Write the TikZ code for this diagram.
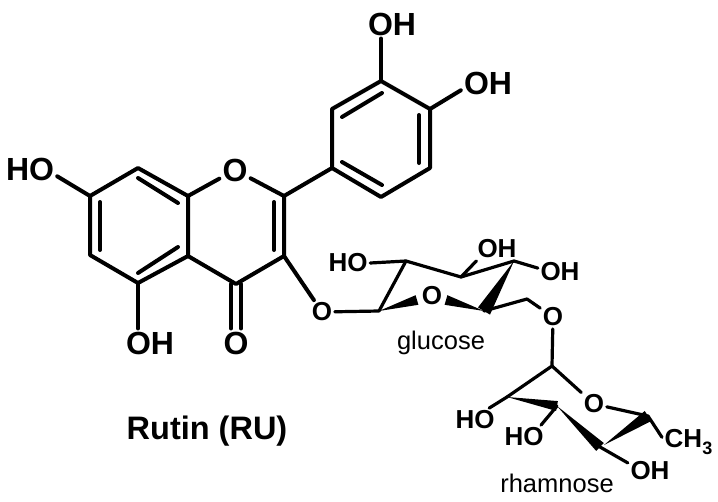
\documentclass[tikz,border=0pt]{standalone}
\usepackage{fontspec}
\setmainfont{Liberation Sans}
\usetikzlibrary{calc}
\tikzset{
    bond/.style={line width=4pt, line cap=round, line join=round},
    thinbond/.style={line width=3.2pt, line cap=round, line join=round},
    atom/.style={font=\fontsize{32}{32}\selectfont\bfseries, inner sep=3pt},
    sugaratom/.style={font=\fontsize{26}{26}\selectfont\bfseries, inner sep=2.5pt},
    sugarname/.style={font=\fontsize{25.5}{25.5}\selectfont, inner sep=0pt},
    title/.style={font=\fontsize{32.5}{32.5}\selectfont\bfseries, inner sep=0pt}
}
\newcommand{\wedgebond}[3]{\fill (#1) -- ($(#2)!#3!90:(#1)$) -- ($(#2)!#3!-90:(#1)$) -- cycle;}
\begin{document}
\begin{tikzpicture}[x=1pt, y=-1pt]
                \useasboundingbox (0, 0) rectangle (718, 501);

                % ring vertices
                \coordinate (C2) at (284, 196);
                \coordinate (C3) at (284, 256);
                \coordinate (C4) at (236, 284);
                \coordinate (C4a) at (188, 256);
                \coordinate (C5) at (138, 283);
                \coordinate (C6) at (90, 255);
                \coordinate (C7) at (90, 196);
                \coordinate (C8) at (138, 168);
                \coordinate (C8a) at (188, 196);

                \coordinate (B1) at (332, 168);
                \coordinate (B2) at (332, 109);
                \coordinate (B3) at (381, 81);
                \coordinate (B4) at (430, 109);
                \coordinate (B5) at (430, 168);
                \coordinate (B6) at (381, 197);

                \coordinate (G1) at (379, 311);
                \coordinate (G2) at (406, 261);
                \coordinate (G3) at (461, 277);
                \coordinate (G4) at (514, 261);
                \coordinate (G5) at (484, 311);
                \coordinate (G6) at (527, 299);
                \coordinate (Ga) at (417, 300);
                \coordinate (Gb) at (446, 300);

                \coordinate (R1) at (552, 366);
                \coordinate (R2) at (507, 397);
                \coordinate (R3) at (557, 406);
                \coordinate (R4) at (600, 447);
                \coordinate (R4t) at (604, 445);
                \coordinate (R5) at (648, 416);

                % labels
                \node[atom] (HO7) at (30, 169) {HO};
                \node[atom] (OH5) at (150, 343) {OH};
                \node[atom] (O1) at (235, 170) {O};
                \node[atom] (O4) at (236, 343) {O};
                \node[atom] (OH3) at (392, 24) {OH};
                \node[atom] (OH4) at (488, 83) {OH};

                \node[sugaratom] (O3) at (322, 312) {O};
                \node[sugaratom] (OG) at (432, 296) {O};
                \node[sugaratom] (O6) at (553, 317) {O};
                \node[sugaratom] (HOa) at (348, 263) {HO};
                \node[sugaratom] (OHb) at (497, 249) {OH};
                \node[sugaratom] (OHc) at (560, 272) {OH};

                \node[sugaratom] (OR) at (594, 404) {O};
                \node[sugaratom] (HOd) at (475, 420) {HO};
                \node[sugaratom] (HOe) at (524, 437) {HO};
                \node[sugaratom] (OHf) at (650, 471) {OH};
                \node[sugaratom, anchor=west] (CH3) at (662, 442) {CH\raisebox{-0.3em}{\fontsize{18}{18}\selectfont 3}};

                \node[sugarname] (glucose) at (441, 343) {glucose};
                \node[sugarname] (rhamnose) at (557, 483) {rhamnose};
                \node[title] (rutin) at (207, 431) {Rutin (RU)};

                % flavone rings
                \draw[bond] (C7) -- (C8) -- (C8a) -- (C4a) -- (C5) -- (C6) -- cycle;
                \draw[bond] (C8a) -- (O1) -- (C2) -- (C3) -- (C4) -- (C4a);
                \draw[bond] ([shift={(10, 6)}]C7) -- ([shift={(10, -5)}]C6);
                \draw[bond] ([shift={(0, 10)}]C8) -- ([shift={(-10, 7)}]C8a);
                \draw[bond] ([shift={(0, -10)}]C5) -- ([shift={(-10, -9)}]C4a);
                \draw[bond] ([shift={(-10, 6)}]C2) -- ([shift={(-10, -6)}]C3);
                \draw[bond] ([xshift=-5]C4) -- ([xshift=-5]O4.north);
                \draw[bond] ([xshift=5]C4) -- ([xshift=5]O4.north);
                \draw[bond] (C5) -- (C5 |- OH5.north);
                \draw[bond] (C7) -- (HO7.-15);

                % catechol ring
                \draw[bond] (C2) -- (B1) -- (B2) -- (B3) -- (B4) -- (B5) -- (B6) -- (B1);
                \draw[bond] ([shift={(10, 8)}]B2) -- ([shift={(1, 12)}]B3);
                \draw[bond] ([shift={(-11, 6)}]B4) -- ([shift={(-11, -5)}]B5);
                \draw[bond] ([shift={(10, -6)}]B1) -- ([shift={(1, -12)}]B6);
                \draw[bond] (B3) -- (B3 |- OH3.south);
                \draw[bond] (B4) -- (OH4.-165);

                % glucose
                \draw[bond] (C3) -- (O3);
                \draw[thinbond] (O3) -- (G1) -- (G2) -- (G3) -- (G4);
                \draw[thinbond] (G5) -- (G6) -- (O6);
                \draw[thinbond] (G2) -- (HOa.east);
                \draw[thinbond] (G3) -- (OHb.-150);
                \draw[thinbond] (G4) -- (OHc.170);
                \wedgebond{G1}{Ga}{5pt}
                \wedgebond{G5}{Gb}{5pt}
                \wedgebond{G4}{G5}{7pt}

                % rhamnose
                \draw[thinbond] (O6) -- (R1) -- (R2);
                \draw[thinbond] (R1) -- (OR);
                \draw[thinbond] (OR) -- (R5) -- (CH3.170);
                \draw[thinbond] (R2) -- (HOd.40);
                \draw[thinbond] (R3) -- (HOe.35);
                \draw[thinbond] (R4) -- (OHf.160);
                \wedgebond{R2}{R3}{5pt}
                \wedgebond{R3}{R4}{5.5pt}
                \wedgebond{R4t}{R5}{6pt}
            \end{tikzpicture}
\end{document}
